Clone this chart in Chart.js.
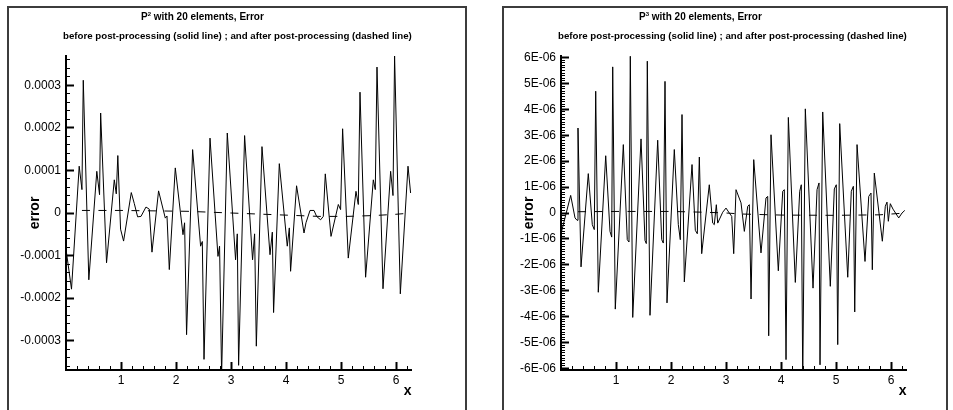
<!DOCTYPE html>
<html>
<head>
<meta charset="utf-8">
<script src="https://cdn.jsdelivr.net/npm/chart.js@4.4.1/dist/chart.umd.min.js"></script>
<style>
  body { margin: 0; background: #fff; width: 953px; height: 410px; overflow: hidden; position: relative;
         font-family: "Liberation Sans", Arial, Helvetica, sans-serif; }
  .frame { position: absolute; top: 6px; height: 420px; border: 2px solid #3c3c3c; box-sizing: border-box; }
  canvas { position: absolute; top: 0; }
  .ttl { position: absolute; font-weight: bold; white-space: nowrap; line-height: 12px; color: #000; }
  .ttl.main { font-size: 10px; }
  .ttl.sub { font-size: 9.7px; }
  .ttl sup { font-size: 6px; vertical-align: 4px; line-height: 0; }
</style>
</head>
<body>
<div class="frame" style="left:7px; width:460px;"></div>
<div class="frame" style="left:502px; width:446px;"></div>
<canvas id="p2" width="476" height="410" style="left:0"></canvas>
<canvas id="p3" width="473" height="410" style="left:480px"></canvas>
<div class="ttl main" style="left:141px; top:11px;">P<sup>2</sup> with 20 elements, Error</div>
<div class="ttl sub" style="left:63px; top:30px;">before post-processing (solid line) ; and after post-processing (dashed line)</div>
<div class="ttl main" style="left:639px; top:11px;">P<sup>3</sup> with 20 elements, Error</div>
<div class="ttl sub" style="left:558px; top:30px;">before post-processing (solid line) ; and after post-processing (dashed line)</div>
<script>
// --- P2 error, values in units of 1e-4 ---
const p2X = [0.00,0.10,0.24,0.29,0.314,0.415,0.56,0.61,0.63,0.737,0.878,0.914,0.942,0.992,1.047,1.187,1.242,1.302,1.363,1.454,
  1.514,1.563,1.683,1.805,1.836,1.878,1.987,2.127,2.156,2.192,2.302,2.447,2.478,2.509,2.618,2.763,2.792,2.829,2.932,3.083,
  3.114,3.138,3.247,3.392,3.429,3.46,3.563,3.709,3.751,3.774,3.878,4.023,4.06,4.083,4.192,4.327,4.363,4.436,4.509,4.556,
  4.629,4.678,4.714,4.818,4.951,4.992,5.029,5.132,5.272,5.314,5.345,5.447,5.587,5.623,5.654,5.763,5.902,5.945,5.974,6.078,
  6.218,6.265];
const p2Err = [-0.85,-1.79,1.10,0.55,3.12,-1.57,0.98,0.43,2.35,-1.17,0.78,0.45,1.35,-0.38,-0.66,0.48,0.22,-0.09,-0.08,0.14,
  0.09,-0.92,0.52,-0.12,-0.07,-1.33,1.06,-0.51,-0.23,-2.86,1.49,-0.78,-0.67,-3.44,1.76,-1.02,-0.78,-3.80,1.88,-1.10,
  -0.49,-3.58,1.82,-1.10,-0.49,-3.13,1.56,-0.98,-0.45,-2.34,1.16,-0.78,-0.35,-1.37,0.64,-0.47,-0.23,0.06,0.06,-0.08,
  -0.16,-0.08,0.92,-0.55,0.20,0.08,1.98,-1.06,0.51,0.20,2.84,-1.51,0.78,0.55,3.43,-1.78,0.98,0.41,3.69,-1.90,
  1.10,0.47];
const p2PostX = [0.29,1.0,1.6,2.2,2.8,3.4,4.0,4.6,5.1,5.6,6.0,6.28];
const p2PostErr = [0.06,0.06,0.05,0.04,0.01,-0.02,-0.05,-0.08,-0.08,-0.06,-0.03,0.0];
const p2YTicks = [-0.0003,-0.0002,-0.0001,0,0.0001,0.0002,0.0003];
const p2YLabels = ["-0.0003","-0.0002","-0.0001","0","0.0001","0.0002","0.0003"];

// --- P3 error, values in units of 1e-6 ---
const p3X = [0.00,0.176,0.255,0.291,0.309,0.364,0.496,0.569,0.605,0.631,0.678,0.813,0.891,0.922,0.94,0.987,1.133,1.205,1.236,1.26,
  1.304,1.455,1.527,1.551,1.569,1.618,1.758,1.831,1.86,1.891,1.927,2.06,2.133,2.169,2.2,2.242,2.382,2.442,2.478,2.515,
  2.558,2.696,2.758,2.787,2.824,2.849,2.94,3.0,3.06,3.104,3.14,3.182,3.273,3.333,3.395,3.424,3.455,3.504,3.636,3.727,
  3.758,3.776,3.818,3.951,4.031,4.06,4.091,4.133,4.26,4.34,4.369,4.395,4.442,4.582,4.655,4.691,4.709,4.758,4.896,4.969,
  5.005,5.031,5.067,5.213,5.278,5.315,5.34,5.382,5.527,5.595,5.636,5.66,5.696,5.842,5.896,5.927,5.951,5.987,6.036,6.14,
  6.2,6.25];
const p3Err = [-0.8,0.68,-0.19,-0.28,3.28,-2.08,1.52,-0.45,-0.64,4.70,-3.06,2.21,-0.71,-0.93,5.64,-3.71,2.64,-1.03,-1.12,6.05,
  -4.03,2.86,-1.06,-1.18,5.86,-3.95,2.81,-1.03,-1.16,5.08,-3.47,2.45,-0.45,-1.03,3.80,-2.66,1.87,-0.67,-0.80,2.16,
  -1.57,1.09,-0.39,-0.45,0.32,-0.39,0.03,0.19,0.0,-0.13,-1.57,0.90,0.39,-0.71,0.26,0.32,-3.32,2.06,-1.54,0.58,
  0.64,-4.74,3.02,-2.23,0.84,0.90,-5.66,3.69,-2.68,0.84,1.09,-6.4,4.02,-2.90,0.90,1.16,-5.86,3.90,-2.83,0.93,
  1.09,-5.08,3.45,-2.48,0.84,1.03,-3.82,2.64,-1.87,0.64,0.77,-2.19,1.54,-1.09,0.26,0.42,-0.32,0.36,0.15,-0.19,
  0.0,0.1];
const p3PostX = [0.31,1.0,2.0,2.6,3.0,3.3,4.0,5.0,5.8,6.27];
const p3PostErr = [0.05,0.06,0.06,0.03,0.0,-0.04,-0.08,-0.09,-0.07,0.0];
const p3YTicks = [-6e-6,-5e-6,-4e-6,-3e-6,-2e-6,-1e-6,0,1e-6,2e-6,3e-6,4e-6,5e-6,6e-6];
const p3YLabels = ["-6E-06","-5E-06","-4E-06","-3E-06","-2E-06","-1E-06","0","1E-06","2E-06","3E-06","4E-06","5E-06","6E-06"];

const xTicks = [1, 2, 3, 4, 5, 6];
const xLabels = ["1", "2", "3", "4", "5", "6"];

Chart.defaults.font.family = '"Liberation Sans", Arial, Helvetica, sans-serif';
Chart.defaults.color = "#000";

const toPoints = (xs, ys, unit) => xs.map((x, i) => ({ x, y: ys[i] * unit }));

// minor tick positions between the labelled ones
function minorValues(min, max, step, every) {
  const out = [];
  for (let k = Math.ceil(min / step - 1e-6); k <= Math.floor(max / step + 1e-6); k++) {
    if (k % every !== 0) out.push(k * step);
  }
  return out;
}

// negative tickLength makes Chart.js draw the marks inside the plot box
const majorGrid = { display: true, drawOnChartArea: false, drawTicks: true, tickLength: -8, tickWidth: 2, tickColor: "#000" };
const minorGrid = { display: true, drawOnChartArea: false, drawTicks: true, tickLength: -4, tickWidth: 1, tickColor: "#000" };

function errorChart(id, cfg) {
  const xMax = 2 * Math.PI;
  return new Chart(document.getElementById(id), {
    type: "scatter",
    data: {
      datasets: [
        { data: cfg.solid, showLine: true, borderColor: "#000", borderWidth: 1, pointRadius: 0, xAxisID: "x", yAxisID: "y" },
        { data: cfg.dashed, showLine: true, borderColor: "#000", borderWidth: 1, borderDash: [8, 8.5], pointRadius: 0, xAxisID: "x", yAxisID: "y" }
      ]
    },
    options: {
      responsive: false,
      animation: false,
      devicePixelRatio: 1,
      events: [],
      layout: { padding: { left: 0, top: 56, right: cfg.padRight, bottom: 0 } },
      plugins: { legend: { display: false }, tooltip: { enabled: false } },
      scales: {
        x: {
          type: "linear",
          position: "bottom",
          min: 0,
          max: xMax,
          afterBuildTicks: s => { s.ticks = xTicks.map(v => ({ value: v })); },
          afterFit: s => { s.height = 40; },
          grid: majorGrid,
          border: { display: true, width: 2, color: "#000" },
          ticks: { callback: (v, i) => xLabels[i], padding: 11, font: { size: 12 }, maxRotation: 0, autoSkip: false },
          title: { display: true, text: "x", align: "end", font: { size: 14, weight: "bold" }, padding: { top: 0, bottom: 10 } }
        },
        y: {
          type: "linear",
          position: "left",
          min: -cfg.yMax,
          max: cfg.yMax,
          afterBuildTicks: s => { s.ticks = cfg.yTicks.map(v => ({ value: v })); },
          afterFit: s => { s.width = cfg.yWidth; },
          grid: majorGrid,
          border: { display: true, width: 2, color: "#000" },
          ticks: { callback: (v, i) => cfg.yLabels[i], padding: 13, font: { size: 12 }, autoSkip: false },
          title: { display: true, text: "error", font: { size: 14, weight: "bold" }, padding: { top: cfg.titlePad, bottom: 0 } }
        },
        xMinor: {
          type: "linear",
          position: "bottom",
          weight: -1,
          min: 0,
          max: xMax,
          afterBuildTicks: s => { s.ticks = minorValues(0, xMax, 0.2, 5).map(v => ({ value: v })); },
          afterFit: s => { s.height = 0; },
          grid: minorGrid,
          border: { display: false },
          ticks: { display: false, autoSkip: false }
        },
        yMinor: {
          type: "linear",
          position: "left",
          weight: -1,
          min: -cfg.yMax,
          max: cfg.yMax,
          afterBuildTicks: s => { s.ticks = minorValues(-cfg.yMax, cfg.yMax, cfg.yStep, cfg.yEvery).map(v => ({ value: v })); },
          afterFit: s => { s.width = 0; },
          grid: minorGrid,
          border: { display: false },
          ticks: { display: false, autoSkip: false }
        }
      }
    }
  });
}

errorChart("p2", {
  solid: toPoints(p2X, p2Err, 1e-4),
  dashed: toPoints(p2PostX, p2PostErr, 1e-4),
  yMax: 0.000369, yTicks: p2YTicks, yLabels: p2YLabels,
  yStep: 0.00002, yEvery: 5,
  yWidth: 66, padRight: 64.4, titlePad: 26.6
});

errorChart("p3", {
  solid: toPoints(p3X, p3Err, 1e-6),
  dashed: toPoints(p3PostX, p3PostErr, 1e-6),
  yMax: 6.06e-6, yTicks: p3YTicks, yLabels: p3YLabels,
  yStep: 1e-7, yEvery: 10,
  yWidth: 81, padRight: 46.4, titlePad: 41.2
});
</script>
</body>
</html>
